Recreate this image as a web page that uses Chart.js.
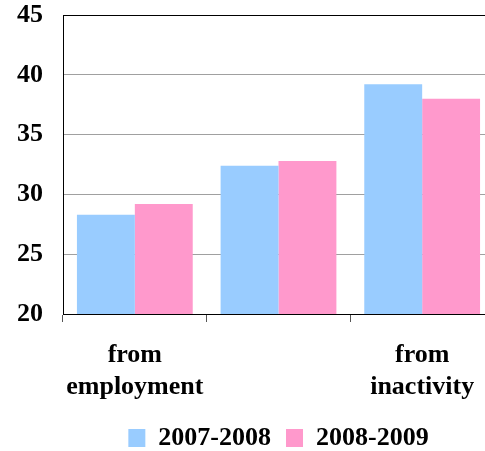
<!DOCTYPE html>
<html>
<head>
<meta charset="utf-8">
<script src="https://cdn.jsdelivr.net/npm/chart.js@4/dist/chart.umd.min.js"></script>
<style>
  html, body { margin: 0; padding: 0; background: #fff; overflow: hidden; }
  #wrap { width: 494px; height: 451px; }
</style>
</head>
<body>
<div id="wrap"><canvas id="flows"></canvas></div>
<script>
var categories = [['from', 'employment'], '', ['from', 'inactivity']];
var series0708 = [28.3, 32.4, 39.2];
var series0809 = [29.2, 32.8, 38.0];
var seriesNames = ['2007-2008', '2008-2009'];
var yTicks = [20, 25, 30, 35, 40, 45];

var serif = "'Liberation Serif', 'Times New Roman', serif";

var ctx = document.getElementById('flows').getContext('2d');
new Chart(ctx, {
  type: 'bar',
  data: {
    labels: categories,
    datasets: [{
      label: seriesNames[0],
      data: series0708,
      backgroundColor: '#99CCFF'
    }, {
      label: seriesNames[1],
      data: series0809,
      backgroundColor: '#FF99CC'
    }]
  },
  options: {
    responsive: true,
    maintainAspectRatio: false,
    animation: false,
    layout: { padding: { left: 17, top: 15, right: 0, bottom: -10 } },
    datasets: {
      bar: { barPercentage: 1, categoryPercentage: 0.806 }
    },
    plugins: {
      tooltip: { enabled: false },
      legend: {
        position: 'bottom',
        fullSize: false,
        labels: {
          color: '#000',
          font: { family: serif, size: 26, weight: 'bold' },
          boxWidth: 17,
          boxHeight: 18,
          padding: 15
        }
      }
    },
    scales: {
      x: {
        afterFit: function(s) {
          s.height = 96;
          s.paddingLeft = 0;
          s.paddingRight = 0;
        },
        grid: {
          drawOnChartArea: false,
          drawTicks: true,
          tickLength: 8,
          color: '#555'
        },
        border: { color: '#000', width: 1 },
        ticks: {
          color: '#000',
          padding: 17,
          maxRotation: 0,
          font: { family: serif, size: 26, weight: 'bold', lineHeight: 1.25 }
        }
      },
      y: {
        min: yTicks[0],
        max: yTicks[yTicks.length - 1],
        afterBuildTicks: function(axis) {
          axis.ticks = yTicks.map(function(v) { return { value: v }; });
        },
        afterFit: function(s) {
          s.width = 46;
          s.paddingTop = 0;
          s.paddingBottom = 0;
        },
        grid: {
          drawTicks: false,
          color: function(c) {
            return c.tick && c.tick.value === 45 ? '#000' : '#a0a0a0';
          }
        },
        border: { color: '#000', width: 1 },
        ticks: {
          color: '#000',
          padding: 20,
          font: { family: serif, size: 26, weight: 'bold' }
        }
      }
    }
  }
});
</script>
</body>
</html>
